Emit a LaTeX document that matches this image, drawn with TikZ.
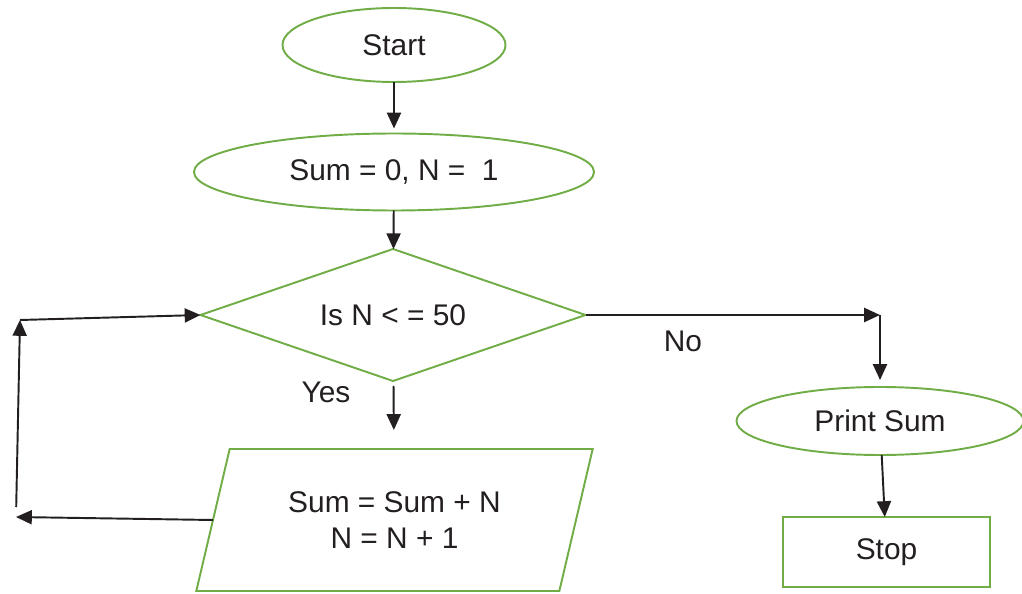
\documentclass[tikz,border=0pt]{standalone}
\usepackage{fontspec}
\setmainfont{Liberation Sans}
\usetikzlibrary{
  arrows.meta,
  positioning,
  shapes,
}
\definecolor{boxgreen}{RGB}{112,173,71}
\definecolor{inkblack}{RGB}{35,31,32}
\tikzset{
  >={Triangle[length=9pt,width=8pt]},
}

\begin{document}
\begin{tikzpicture}[font=\fontsize{17}{20}\selectfont,text=inkblack,
      every node/.style={
        outer sep=0pt,
        inner sep=0pt,
        draw=boxgreen,
        line width=1.1pt
      },
      label/.style={draw=none},
      flow/.style={->,line width=1.1pt,draw=inkblack}
    ]
      \useasboundingbox (0,0) rectangle (20.44,11.86);

      \node [ellipse, minimum width=4.46cm, minimum height=1.48cm] at (7.88,10.96) (start) {Start};
      \node [ellipse, minimum width=8cm, minimum height=1.54cm] at (7.88,8.42) (init) {Sum = 0, N =\ \ 1};
      \node [diamond, aspect=2.9, minimum width=7.7cm, minimum height=2.64cm] at (7.86,5.56) (cond) {Is N < = 50};
      \node [trapezium, trapezium stretches=true, trapezium left angle=69, trapezium right angle=111,
             minimum width=7.94cm, minimum height=2.84cm, align=center] at (7.89,1.46) (update)
            {Sum = Sum + N\\N = N + 1};
      \node [ellipse, minimum width=5.74cm, minimum height=1.36cm] at (17.6,3.44) (print) {Print Sum};
      \node [rectangle, minimum width=4.14cm, minimum height=1.4cm] at (17.73,0.82) (stop) {Stop};

      \node [label] at (6.52,4.02) (yes) {Yes};
      \node [label] at (13.66,5.04) (no) {No};

      \coordinate (noturn) at (cond.east -| print.north);
      \coordinate (loopbot) at (0.32,1.52);
      \coordinate (looptop) at (0.40,5.46);

      \draw [flow, shorten >=0.1cm] (start) -- (init);
      \draw [flow] (init) -- (cond);
      \draw [flow, shorten <=0.1cm, shorten >=0.38cm] (cond) -- (update);
      \draw [flow] (cond.east) -- (noturn);
      \draw [flow, shorten >=0.14cm] (noturn) -- (print.north);
      \draw [flow] (print) -- (stop);

      % way back round to the test
      \draw [flow] (update.west) -- (loopbot);
      \draw [flow, shorten <=0.2cm] (loopbot) -- (looptop);
      \draw [flow] (looptop) -- (cond.west);
\end{tikzpicture}
\end{document}
